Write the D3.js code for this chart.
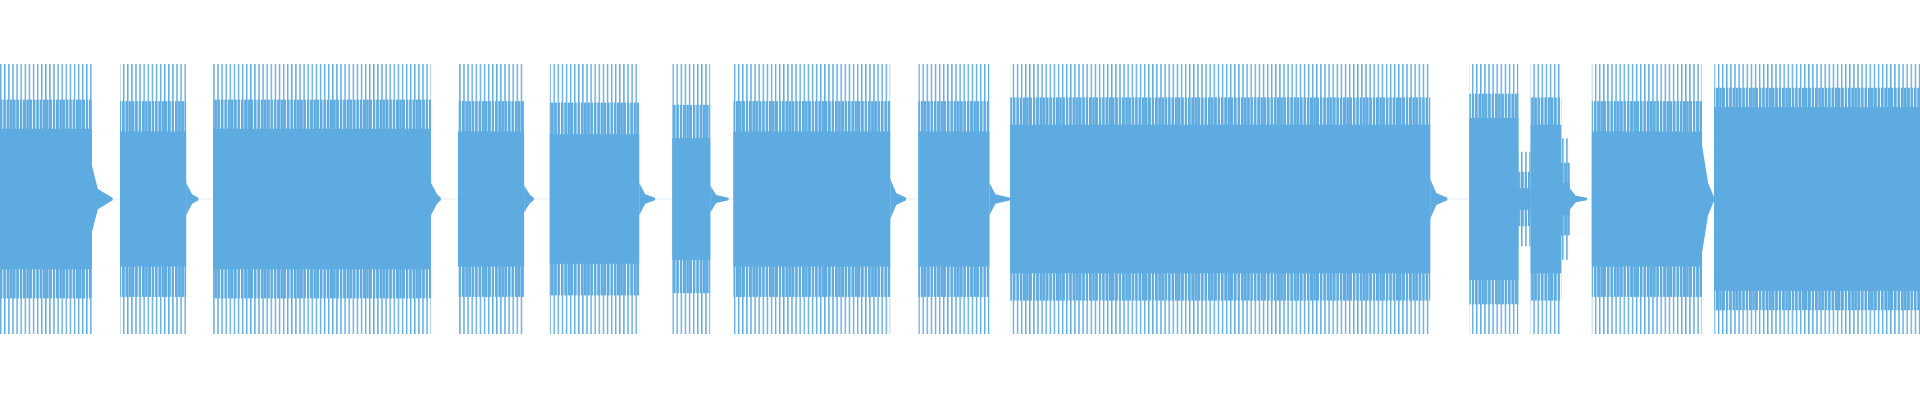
<!doctype html>
<html>
<head>
<meta charset='UTF-8'>
<title>Waveform</title>
<style>
  body{margin:0;background:#fff;}
</style>
</head>
<body>
<script src='https://d3js.org/d3.v7.min.js'></script>
<script>
  // segments of sound: start, end (time units), peak amplitude, dense body amplitude
  const segStart = [0, 98, 174, 374, 449, 549, 599, 750, 825, 1200, 1240, 1250, 1274, 1300, 1400]
  const segEnd   = [75, 152, 352, 428, 522, 580, 727, 808, 1168, 1240, 1250, 1275, 1282, 1390, 1568]
  const segPeak  = [1.0, 1.0, 1.0, 1.0, 1.0, 1.0, 1.0, 1.0, 1.0, 1.0, 0.35, 1.0, 0.45, 1.0, 1.0]
  const segBody  = [0.52, 0.5, 0.52, 0.5, 0.48, 0.45, 0.5, 0.5, 0.55, 0.6, 0.08, 0.55, 0.12, 0.5, 0.68]

  // decaying tails after each segment
  const tailStart = [75, 152, 352, 428, 522, 580, 727, 808, 1168, 1282, 1390]
  const tailEnd   = [92, 162, 360, 436, 535, 595, 740, 825, 1182, 1296, 1400]
  const tailAmp   = [0.25, 0.12, 0.12, 0.1, 0.12, 0.1, 0.15, 0.12, 0.15, 0.08, 0.4]

  const W = 1920, H = 400
  const x = d3.scaleLinear().domain([0, 1568]).range([0, W])
  const y = d3.scaleLinear().domain([-1, 1]).range([334, 64])
  const color = '#5dabe1'

  const svg = d3.select('body').append('svg').attr('width', W).attr('height', H)
  const defs = svg.append('defs')
  const dense = defs.append('pattern').attr('id', 'dense').attr('patternUnits', 'userSpaceOnUse')
    .attr('width', 3.3).attr('height', 10)
  dense.append('rect').attr('width', 2.4).attr('height', 10).attr('fill', color)
  const sparse = defs.append('pattern').attr('id', 'sparse').attr('patternUnits', 'userSpaceOnUse')
    .attr('width', 4.1).attr('height', 10)
  sparse.append('rect').attr('width', 1.4).attr('height', 10).attr('fill', color)

  const segs = segStart.map((s, i) => ({s, e: segEnd[i], p: segPeak[i], b: segBody[i]}))
  const tails = tailStart.map((s, i) => ({s, e: tailEnd[i], a: tailAmp[i]}))
  const band = (d, f) => d.b + (d.p - d.b) * f

  // outer spikes
  svg.selectAll('.peak').data(segs).join('rect')
    .attr('x', d => x(d.s)).attr('width', d => x(d.e) - x(d.s))
    .attr('y', d => y(d.p)).attr('height', d => y(-d.p) - y(d.p))
    .attr('fill', 'url(#sparse)')
  // middle band
  svg.selectAll('.mid').data(segs).join('rect')
    .attr('x', d => x(d.s)).attr('width', d => x(d.e) - x(d.s))
    .attr('y', d => y(band(d, 0.45))).attr('height', d => y(-band(d, 0.45)) - y(band(d, 0.45)))
    .attr('fill', 'url(#dense)')
  // solid body
  svg.selectAll('.body').data(segs).join('rect')
    .attr('x', d => x(d.s)).attr('width', d => x(d.e) - x(d.s))
    .attr('y', d => y(d.b)).attr('height', d => y(-d.b) - y(d.b))
    .attr('fill', color)

  svg.selectAll('.tail').data(tails).join('path')
    .attr('d', d => `M${x(d.s)},${y(d.a)}L${x(d.s) + 6},${y(d.a * 0.3)}L${x(d.e)},${y(0.01)}L${x(d.e)},${y(-0.01)}L${x(d.s) + 6},${y(-d.a * 0.3)}L${x(d.s)},${y(-d.a)}Z`)
    .attr('fill', color)
  svg.append('line').attr('x1', 0).attr('x2', W).attr('y1', y(0)).attr('y2', y(0))
    .attr('stroke', color).attr('stroke-width', 0.6).attr('stroke-opacity', 0.3)
</script>
</body>
</html>
